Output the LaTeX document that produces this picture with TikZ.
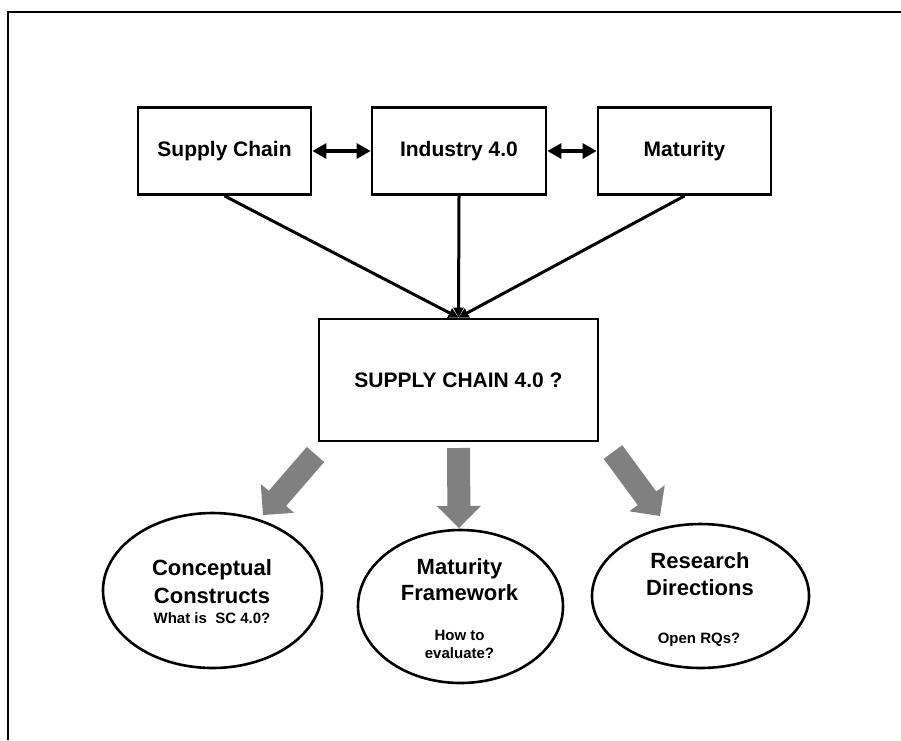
\documentclass[tikz,border=0pt]{standalone}
\usepackage{fontspec}
\setmainfont{Liberation Sans}
\usetikzlibrary{shapes.geometric,arrows.meta,calc}
\definecolor{arrowgray}{RGB}{128,128,128}
\newcommand{\grayblockarrow}[2]{%
  \coordinate (hb) at ($(#2)!22pt!(#1)$);
  \fill[arrowgray]
    ($(#1)!11.5pt!90:(#2)$) -- ($(hb)!11.5pt!-90:(#1)$) -- ($(hb)!22pt!-90:(#1)$) -- (#2)
    -- ($(hb)!22pt!90:(#1)$) -- ($(hb)!11.5pt!90:(#1)$) -- ($(#1)!11.5pt!-90:(#2)$) -- cycle;
}
\begin{document}
\begin{tikzpicture}[x=1pt,y=-1pt,
  boxnode/.style={draw,line width=2.8pt,minimum width=173pt,minimum height=87pt,inner sep=0pt,
    font=\fontsize{21}{25}\selectfont\bfseries},
  ellnode/.style={draw,ellipse,line width=2.6pt,inner sep=0pt},
  titletext/.style={anchor=base,inner sep=0pt,font=\fontsize{22}{26}\selectfont\bfseries},
  subtext/.style={anchor=base,inner sep=0pt,font=\fontsize{15}{18}\selectfont\bfseries},
  dblarrow/.style={line width=3.2pt,{Triangle[length=14pt,width=15pt]}-{Triangle[length=14pt,width=15pt]}},
  convline/.style={line width=3pt,-{Triangle[length=10pt,width=10pt]}},
  framestyle/.style={line width=1.3pt}
]
\useasboundingbox (0,0) rectangle (901,740);
\draw[framestyle] (8,740) -- (8,12) -- (901,12);

% top boxes
\node[boxnode] (sc) at (224.5,151) {Supply Chain};
\node[boxnode,minimum width=174pt] (ind) at (459,151) {Industry 4.0};
\node[boxnode] (mat) at (684.5,151) {Maturity};

\draw[dblarrow] (sc) -- (ind);
\draw[dblarrow] (ind) -- (mat);

% center box
\node[boxnode,minimum width=279pt,minimum height=122pt] (cb) at (458.5,380) {SUPPLY CHAIN 4.0 ?};

\draw[convline] (sc.south) -- (cb.north);
\draw[convline] (ind.south) -- (cb.north);
\draw[convline] (mat.south) -- (cb.north);

% ellipses
\node[ellnode,minimum width=219pt,minimum height=155pt] (e1) at (212.5,590.5) {};
\node[ellnode,minimum width=205pt,minimum height=153pt] (e2) at (460.5,606.5) {};
\node[ellnode,minimum width=217pt,minimum height=144pt] (e3) at (700.5,596) {};

% gray block arrows
\coordinate (g1s) at (315.5,454.5);
\coordinate (g1t) at (263,515);
\coordinate (g2s) at (458.5,448);
\coordinate (g2t) at (459,528);
\coordinate (g3s) at (613,452);
\coordinate (g3t) at (660,516);
\grayblockarrow{g1s}{g1t}
\grayblockarrow{g2s}{g2t}
\grayblockarrow{g3s}{g3t}

% ellipse texts
\node[titletext] (t1a) at (212,575) {Conceptual};
\node[titletext] (t1b) at (212,603) {Constructs};
\node[subtext] (t1c) at (212,623) {What is\ \ SC 4.0?};

\node[titletext] (t2a) at (459.5,574) {Maturity};
\node[titletext] (t2b) at (459.5,600) {Framework};
\node[subtext] (t2c) at (459.5,640) {How to};
\node[subtext] (t2d) at (459.5,658) {evaluate?};

\node[titletext] (t3a) at (700,568) {Research};
\node[titletext] (t3b) at (700,595) {Directions};
\node[subtext] (t3c) at (699,643) {Open RQs?};
\end{tikzpicture}
\end{document}
